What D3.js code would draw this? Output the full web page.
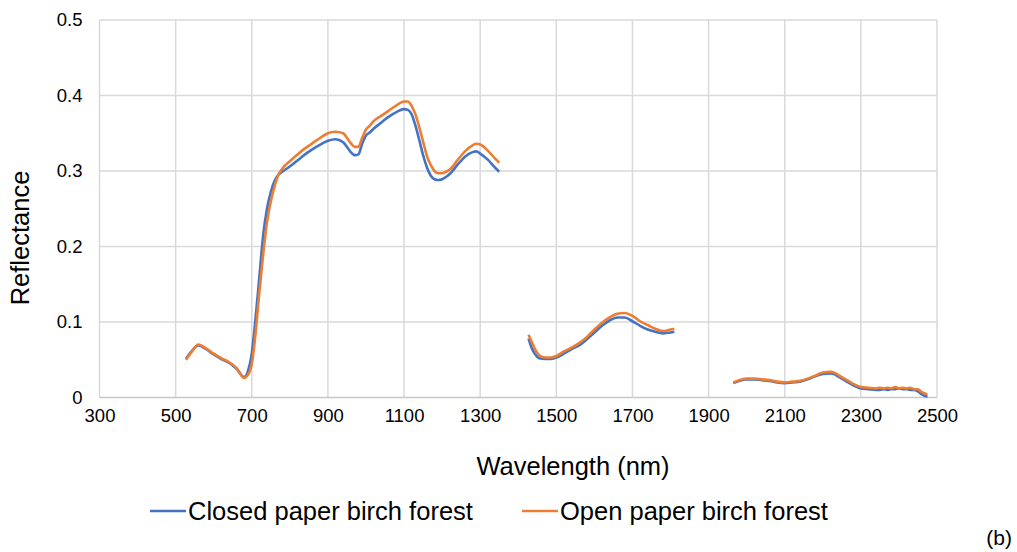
<!DOCTYPE html>
<html>
<head>
<meta charset="utf-8">
<script src="https://cdn.jsdelivr.net/npm/d3@7"></script>
<style>
  html, body { margin: 0; padding: 0; background: #fff; }
  text { font-family: 'Liberation Sans', Arial, sans-serif; fill: #000; }
</style>
</head>
<body>
<div id="chart"></div>
<script>
// data ----------------------------------------------------------------------------------------
const wl1 = [527, 540, 560, 580, 600, 620, 640, 660, 680, 690, 700, 710, 720, 730, 740, 750, 760, 770, 780,
  800, 820, 840, 860, 880, 900, 920, 940, 950, 960, 970, 980, 990, 1000, 1010, 1020, 1040, 1060, 1080, 1100,
  1110, 1120, 1130, 1140, 1150, 1160, 1170, 1180, 1190, 1200, 1210, 1220, 1240, 1260, 1280, 1290, 1300, 1320, 1340, 1350];
const closed1 = [0.051, 0.060, 0.069, 0.064, 0.057, 0.051, 0.046, 0.038, 0.027, 0.035, 0.058, 0.105, 0.160, 0.215, 0.250, 0.272, 0.287, 0.295, 0.299,
  0.306, 0.314, 0.322, 0.329, 0.335, 0.340, 0.342, 0.338, 0.332, 0.325, 0.321, 0.322, 0.336, 0.347, 0.351, 0.356, 0.364, 0.372, 0.378, 0.382,
  0.381, 0.375, 0.360, 0.341, 0.321, 0.305, 0.294, 0.289, 0.288, 0.289, 0.292, 0.296, 0.308, 0.319, 0.325, 0.326, 0.323, 0.315, 0.304, 0.299];
const open1 = [0.050, 0.059, 0.070, 0.065, 0.058, 0.052, 0.047, 0.039, 0.026, 0.030, 0.044, 0.085, 0.140, 0.190, 0.232, 0.260, 0.280, 0.295, 0.303,
  0.313, 0.322, 0.330, 0.337, 0.344, 0.350, 0.352, 0.350, 0.344, 0.337, 0.332, 0.332, 0.344, 0.355, 0.360, 0.366, 0.373, 0.380, 0.387, 0.392,
  0.392, 0.386, 0.375, 0.358, 0.339, 0.320, 0.308, 0.300, 0.297, 0.297, 0.299, 0.302, 0.314, 0.326, 0.334, 0.336, 0.335, 0.327, 0.316, 0.311];

const wl2 = [1427, 1435, 1445, 1455, 1470, 1485, 1500, 1520, 1540, 1560, 1580, 1600, 1620, 1640, 1660, 1680, 1700, 1720, 1740, 1760, 1780, 1800, 1810];
const closed2 = [0.078, 0.066, 0.057, 0.052, 0.051, 0.051, 0.053, 0.058, 0.064, 0.069, 0.077, 0.086, 0.095, 0.102, 0.106, 0.106, 0.101, 0.095, 0.090, 0.087, 0.085, 0.086, 0.087];
const open2 = [0.083, 0.074, 0.063, 0.056, 0.053, 0.053, 0.055, 0.061, 0.066, 0.072, 0.080, 0.090, 0.099, 0.106, 0.111, 0.112, 0.108, 0.101, 0.096, 0.091, 0.088, 0.090, 0.091];

const wl3 = [1965, 1980, 2000, 2020, 2040, 2060, 2080, 2100, 2120, 2140, 2160, 2180, 2200, 2220, 2230, 2240, 2260, 2280, 2300, 2320,
  2340, 2350, 2360, 2370, 2380, 2390, 2400, 2410, 2420, 2430, 2440, 2450, 2460, 2475];
const closed3 = [0.019, 0.022, 0.024, 0.024, 0.023, 0.022, 0.020, 0.019, 0.020, 0.021, 0.024, 0.028, 0.031, 0.032, 0.031, 0.028, 0.022, 0.016, 0.012, 0.011,
  0.010, 0.010, 0.011, 0.010, 0.011, 0.011, 0.012, 0.011, 0.011, 0.010, 0.010, 0.008, 0.004, 0.001];
const open3 = [0.020, 0.023, 0.025, 0.025, 0.024, 0.023, 0.021, 0.020, 0.021, 0.022, 0.025, 0.029, 0.033, 0.034, 0.033, 0.030, 0.024, 0.018, 0.014, 0.013,
  0.012, 0.013, 0.012, 0.013, 0.012, 0.014, 0.012, 0.013, 0.012, 0.013, 0.011, 0.011, 0.007, 0.004];

const xTicks = [300, 500, 700, 900, 1100, 1300, 1500, 1700, 1900, 2100, 2300, 2500];
const yTicks = [0, 0.1, 0.2, 0.3, 0.4, 0.5];
const seriesNames = ['Closed paper birch forest', 'Open paper birch forest'];
const colors = ['#4472C4', '#ED7D31'];

// svg --------------------------------------------------------------------------------------------
const width = 1017;
const height = 552;
const margin = { top: 20, bottom: 154.5, left: 99.5, right: 80 };

const svg = d3.select('#chart').append('svg')
  .attr('width', width)
  .attr('height', height);

const xScale = d3.scaleLinear()
  .domain([300, 2500])
  .range([margin.left, width - margin.right]);
const yScale = d3.scaleLinear()
  .domain([0, 0.5])
  .range([height - margin.bottom, margin.top]);

// grid ---------------------------------------------------------------------------------------------
svg.append('g')
  .selectAll('line')
  .data(xTicks)
  .enter()
  .append('line')
  .attr('x1', d => xScale(d))
  .attr('x2', d => xScale(d))
  .attr('y1', yScale(0.5))
  .attr('y2', yScale(0))
  .attr('stroke', '#d9d9d9')
  .attr('stroke-width', 1.5);
svg.append('g')
  .selectAll('line')
  .data(yTicks)
  .enter()
  .append('line')
  .attr('x1', xScale(300))
  .attr('x2', xScale(2500))
  .attr('y1', d => yScale(d))
  .attr('y2', d => yScale(d))
  .attr('stroke', d => d === 0 ? '#c8c8c8' : '#d9d9d9')
  .attr('stroke-width', 1.5);

// axes (labels only) ---------------------------------------------------------------------------
const xAxis = svg.append('g')
  .attr('transform', 'translate(0,' + yScale(0) + ')')
  .call(d3.axisBottom(xScale).tickValues(xTicks).tickSize(0).tickPadding(11).tickFormat(d3.format('d')));
xAxis.select('.domain').remove();
xAxis.selectAll('text').attr('font-size', '18.5px').attr('font-family', null);

const yAxis = svg.append('g')
  .attr('transform', 'translate(' + xScale(300) + ',0)')
  .call(d3.axisLeft(yScale).tickValues(yTicks).tickSize(0).tickPadding(17).tickFormat(d => d === 0 ? '0' : d3.format('.1f')(d)));
yAxis.select('.domain').remove();
yAxis.selectAll('text').attr('font-size', '18.5px').attr('font-family', null);

// lines --------------------------------------------------------------------------------------------
const segments = [
  [wl1, closed1, open1],
  [wl2, closed2, open2],
  [wl3, closed3, open3]
];
const line = d3.line()
  .x(d => xScale(d[0]))
  .y(d => yScale(d[1]))
  .curve(d3.curveMonotoneX);

[0, 1].forEach(s => {
  segments.forEach(seg => {
    const pts = seg[0].map((w, i) => [w, seg[s + 1][i]]);
    svg.append('path')
      .datum(pts)
      .attr('d', line)
      .attr('fill', 'none')
      .attr('stroke', colors[s])
      .attr('stroke-width', 2.6)
      .attr('stroke-linejoin', 'round');
  });
});

// titles ----------------------------------------------------------------------------------------
svg.append('text')
  .attr('x', 573)
  .attr('y', 475)
  .attr('text-anchor', 'middle')
  .attr('font-size', '25.5px')
  .text('Wavelength (nm)');

svg.append('text')
  .attr('transform', 'translate(29,238) rotate(-90)')
  .attr('text-anchor', 'middle')
  .attr('font-size', '25.5px')
  .text('Reflectance');

// legend -----------------------------------------------------------------------------------------
const legendX = [150, 522];
seriesNames.forEach((name, i) => {
  const g = svg.append('g').attr('transform', 'translate(' + legendX[i] + ',511)');
  g.append('line')
    .attr('x1', 0)
    .attr('x2', 36)
    .attr('y1', 0)
    .attr('y2', 0)
    .attr('stroke', colors[i])
    .attr('stroke-width', 2.6);
  g.append('text')
    .attr('x', 38)
    .attr('y', 9)
    .attr('font-size', '25.5px')
    .text(name);
});

svg.append('text')
  .attr('x', 1012)
  .attr('y', 545)
  .attr('text-anchor', 'end')
  .attr('font-size', '21px')
  .text('(b)');
</script>
</body>
</html>
